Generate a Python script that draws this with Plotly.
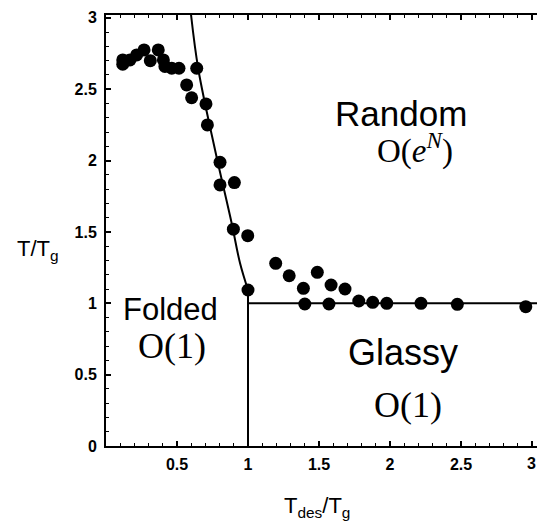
import plotly.graph_objects as go

# Simulation points (T_des/T_g, T/T_g)
x_sim = [0.118, 0.118, 0.169, 0.216, 0.268, 0.312, 0.368, 0.404, 0.415, 0.463, 0.514,
         0.639, 0.568, 0.603, 0.704, 0.714, 0.803, 0.803, 0.904, 0.897, 0.998, 1.0,
         1.195, 1.29, 1.39, 1.40, 1.488, 1.585, 1.57, 1.683, 1.78, 1.878, 1.977,
         2.218, 2.474, 2.956]
y_sim = [2.705, 2.675, 2.705, 2.74, 2.775, 2.70, 2.775, 2.705, 2.66, 2.647, 2.647,
         2.647, 2.53, 2.44, 2.397, 2.25, 1.988, 1.829, 1.846, 1.519, 1.474, 1.093,
         1.28, 1.193, 1.105, 0.995, 1.217, 1.128, 0.995, 1.10, 1.016, 1.007, 1.0,
         1.0, 0.993, 0.976]

# Folding boundary curve
curve_x = [0.599, 0.65, 0.768, 0.885, 0.944, 1.0]
curve_y = [3.02, 2.64, 2.074, 1.561, 1.28, 1.093]

# Phase boundaries
vert_x = [1.0, 1.0]
vert_y = [0.0, 1.093]
horiz_x = [1.0, 3.2]
horiz_y = [1.0, 1.0]

x_ticks = [0.5, 1, 1.5, 2, 2.5, 3]
x_ticklabels = ["0.5", "1", "1.5", "2", "2.5", "3"]
y_ticks = [0, 0.5, 1, 1.5, 2, 2.5, 3]
y_ticklabels = ["0", "0.5", "1", "1.5", "2", "2.5", "3"]

fig = go.Figure()
line_style = dict(color="black", width=2)
fig.add_trace(go.Scatter(x=curve_x, y=curve_y, mode="lines", line=dict(color="black", width=2, shape="spline"), hoverinfo="skip"))
fig.add_trace(go.Scatter(x=vert_x, y=vert_y, mode="lines", line=line_style, hoverinfo="skip"))
fig.add_trace(go.Scatter(x=horiz_x, y=horiz_y, mode="lines", line=line_style, hoverinfo="skip"))
fig.add_trace(go.Scatter(x=x_sim, y=y_sim, mode="markers",
                         marker=dict(color="black", size=13, line=dict(width=0)),
                         cliponaxis=False))

tickfont = dict(family="Liberation Sans, Arial, sans-serif", size=16, color="black", weight="bold")
# the last x tick label sits on the page edge, where Plotly hides it; draw it as an annotation
x_ticktext_axis = x_ticklabels[:-1] + [""]
fig.update_xaxes(range=[0, 3.035], tickvals=x_ticks, ticktext=x_ticktext_axis,
                 showline=True, linecolor="black", linewidth=2, mirror="ticks",
                 ticks="inside", ticklen=5, tickwidth=1.5, tickcolor="black",
                 minor=dict(dtick=0.1, ticks="inside", ticklen=3, tickcolor="black", tickwidth=1),
                 showgrid=False, zeroline=False, tickfont=tickfont, ticklabelstandoff=3)
fig.update_yaxes(range=[0, 3.02], tickvals=y_ticks, ticktext=y_ticklabels,
                 showline=True, linecolor="black", linewidth=2, mirror=False,
                 ticks="inside", ticklen=5, tickwidth=1.5, tickcolor="black",
                 minor=dict(dtick=0.1, ticks="inside", ticklen=3, tickcolor="black", tickwidth=1),
                 showgrid=False, zeroline=False, tickfont=tickfont, ticklabelstandoff=4)

sans = "Liberation Sans, Arial, Helvetica, sans-serif"
serif = "Liberation Serif, Times New Roman, serif"
ann = []
def lab(text, x, y, size, family, xanchor="center"):
    ann.append(dict(text=text, x=x, y=y, xref="paper", yref="paper", showarrow=False,
                    xanchor=xanchor, yanchor="middle",
                    font=dict(family=family, size=size, color="black")))

W, H = 537, 521
L, T, R, B = 106, 15, 0, 75
pw, ph = W - L - R, H - T - B
def px(xp):
    return (xp - L) / pw
def py(yp):
    return (H - B - yp) / ph

lab("Random", px(401), py(113), 35, sans)
lab("O(<i>e</i><sup><i>N</i></sup>)", px(415), py(149), 33, serif)
lab("Folded", px(170), py(309), 31, sans)
lab("O(1)", px(172), py(346), 36, serif)
lab("Glassy", px(403), py(352), 36, sans)
lab("O(1)", px(408), py(405), 36, serif)
lab("T/T<sub>g</sub>", px(38), py(250), 22, sans)
lab("T<sub>des</sub>/T<sub>g</sub>", px(317), py(507), 22, sans)
ann.append(dict(text=x_ticklabels[-1], x=1.0, y=py(463), xref="paper", yref="paper",
                showarrow=False, xanchor="right", yanchor="middle", borderpad=0,
                font=tickfont))

fig.update_layout(width=W, height=H, margin=dict(l=L, r=R, t=T, b=B, pad=0),
                  paper_bgcolor="white", plot_bgcolor="white", showlegend=False,
                  annotations=ann)

fig.write_html("out.html", config={"displayModeBar": False},
               post_script="document.body.style.margin='0';document.body.style.overflow='hidden';")
